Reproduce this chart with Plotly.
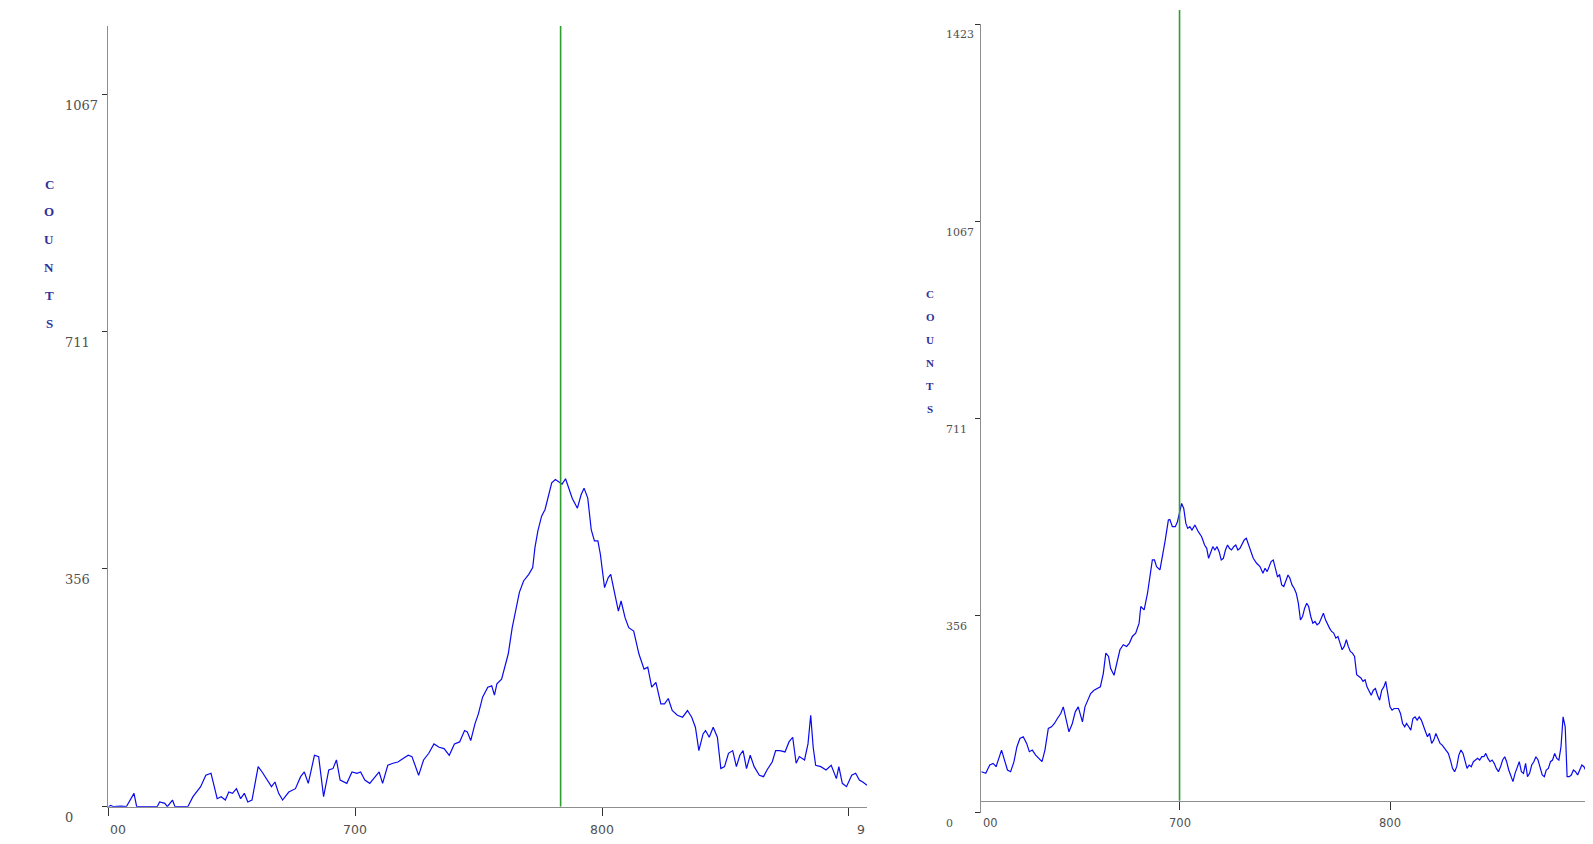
import plotly.graph_objects as go

# ---------------- data ----------------
left_wavelength = [600.0, 601.0, 602.1, 605.2, 607.3, 610.4, 611.5, 619.8, 620.8, 622.9, 623.9, 626.0, 627.0,
    632.2, 634.3, 637.4, 639.5, 641.6, 642.6, 644.1, 645.7, 647.4, 648.8, 650.3, 651.9, 653.6, 655.1,
    656.5, 658.2, 660.7, 662.3, 664.4, 666.1, 667.5, 669.0, 670.6, 673.1, 675.8, 677.9, 679.4, 681.0,
    683.5, 685.2, 687.2, 689.3, 691.0, 692.4, 693.9, 696.6, 698.7, 700.7, 702.2, 703.9, 705.9, 708.0,
    709.7, 711.1, 713.2, 715.3, 717.3, 719.4, 721.5, 723.0, 725.7, 727.7, 729.8, 731.9, 734.0, 736.0,
    738.1, 740.2, 742.3, 744.3, 745.4, 746.8, 748.5, 749.9, 751.6, 753.7, 755.3, 756.4, 757.4, 759.3,
    760.9, 762.0, 763.6, 765.1, 766.5, 768.2, 770.3, 771.9, 772.8, 774.0, 775.5, 776.9, 778.2, 779.6,
    781.1, 782.3, 783.8, 785.2, 786.5, 787.9, 790.0, 791.5, 792.7, 794.2, 795.6, 796.9, 798.3, 799.3,
    801.0, 802.5, 803.5, 805.2, 806.6, 807.7, 809.3, 810.8, 812.8, 814.9, 817.0, 818.5, 820.1, 821.8,
    823.8, 825.3, 826.8, 828.4, 830.5, 832.6, 834.6, 836.3, 837.8, 839.2, 840.9, 841.9, 843.4, 845.0,
    846.7, 848.1, 849.6, 851.2, 852.9, 854.4, 855.8, 857.1, 858.5, 860.0, 861.6, 863.7, 865.4, 866.8,
    868.9, 870.3, 872.0, 874.1, 875.7, 877.2, 878.6, 879.9, 882.0, 883.4, 884.5, 885.5, 886.5, 888.6,
    890.7, 892.8, 894.9, 895.9, 897.3, 899.0, 901.1, 902.7, 904.2, 905.6, 907.3]
left_counts = [0, 2, 0, 1, 0, 20, 0, 0, 7, 5, 0, 10, 0,
    0, 15, 30, 47, 50, 35, 12, 15, 10, 22, 20, 27, 12, 20,
    7, 10, 60, 52, 40, 30, 37, 20, 10, 22, 27, 45, 52, 35,
    77, 75, 15, 55, 57, 70, 40, 35, 52, 50, 52, 40, 35, 45,
    52, 35, 62, 65, 67, 72, 77, 75, 47, 70, 80, 94, 89, 87,
    77, 94, 97, 114, 112, 99, 124, 139, 164, 179, 181, 167, 184, 191,
    216, 229, 268, 298, 321, 338, 348, 358, 388, 413, 435, 445, 465, 485,
    490, 487, 483, 491, 477, 462, 447, 467, 477, 462, 415, 398, 398, 378,
    328, 343, 348, 318, 293, 308, 283, 268, 263, 229, 206, 209, 179, 186,
    154, 154, 162, 144, 137, 134, 144, 134, 119, 84, 109, 114, 104, 119,
    104, 57, 60, 80, 84, 60, 77, 84, 57, 77, 60, 47, 45, 55,
    67, 84, 84, 82, 97, 104, 65, 75, 70, 94, 137, 89, 62, 60,
    55, 62, 42, 60, 35, 30, 47, 50, 40, 37, 32]

right_wavelength = [606.0, 608.0, 609.9, 611.5, 612.9, 614.3, 615.5, 616.9, 618.3, 619.8, 621.4, 622.8, 624.2,
    625.8, 627.4, 628.7, 630.1, 631.7, 633.3, 634.7, 636.1, 637.7, 639.2, 640.6, 642.0, 643.6, 644.8,
    646.0, 647.5, 649.1, 650.5, 651.9, 653.1, 653.9, 655.1, 656.5, 657.8, 659.4, 661.0, 662.4, 663.8,
    665.0, 666.3, 667.3, 668.9, 670.3, 671.7, 673.3, 674.9, 676.2, 677.6, 679.2, 680.8, 681.6, 683.2,
    684.8, 686.1, 687.1, 688.1, 689.1, 690.7, 692.1, 693.1, 694.7, 695.4, 696.6, 698.0, 699.0, 700.0,
    701.0, 702.0, 703.0, 703.9, 704.9, 705.9, 707.3, 708.9, 710.5, 711.9, 712.9, 713.8, 714.8, 715.8,
    716.8, 717.8, 718.8, 719.8, 720.8, 721.8, 722.8, 723.7, 724.7, 725.7, 726.7, 727.7, 728.7, 729.7,
    730.7, 731.7, 732.7, 733.6, 735.0, 736.6, 738.2, 739.6, 740.6, 741.6, 742.5, 743.5, 744.5, 745.5,
    746.5, 747.5, 748.5, 749.5, 750.5, 751.5, 752.4, 753.4, 754.4, 755.4, 756.4, 757.4, 758.4, 759.4,
    760.4, 761.3, 762.3, 763.3, 764.3, 765.3, 766.3, 767.3, 768.3, 769.3, 770.3, 771.2, 772.2, 773.2,
    774.2, 775.2, 776.2, 777.2, 778.2, 779.2, 780.1, 781.1, 782.1, 783.1, 784.1, 785.1, 786.1, 787.1,
    788.1, 789.0, 790.0, 791.0, 792.0, 793.0, 794.0, 795.0, 796.0, 797.0, 797.9, 798.9, 799.9, 800.9,
    801.9, 802.9, 803.9, 804.9, 805.9, 806.9, 807.8, 808.8, 809.8, 810.8, 811.8, 812.8, 813.8, 814.8,
    815.8, 816.8, 817.7, 818.7, 819.7, 820.7, 821.7, 822.7, 823.7, 824.7, 825.7, 826.6, 827.6, 828.6,
    829.6, 830.6, 831.6, 832.6, 833.6, 834.6, 835.6, 836.5, 837.5, 838.5, 839.5, 840.5, 841.5, 842.5,
    843.5, 844.5, 845.4, 846.4, 847.4, 848.4, 849.4, 850.4, 851.4, 852.4, 853.4, 854.4, 855.3, 856.3,
    857.3, 858.3, 859.3, 860.3, 861.3, 862.3, 863.3, 864.3, 865.2, 866.2, 867.2, 868.2, 869.2, 870.2,
    871.2, 872.2, 873.2, 874.1, 875.1, 876.1, 877.1, 878.1, 879.1, 880.1, 881.1, 882.1, 883.1, 884.0,
    885.0, 886.0, 887.0, 888.0, 889.0, 890.0, 891.0, 892.0, 893.0, 893.9, 894.9, 895.9]
right_counts = [74, 71, 86, 89, 83, 101, 113, 95, 77, 74, 92, 119, 134,
    137, 125, 110, 113, 104, 98, 92, 113, 152, 155, 161, 170, 179, 191,
    173, 146, 161, 182, 191, 173, 164, 191, 203, 215, 221, 224, 227, 251,
    288, 282, 260, 248, 270, 294, 303, 300, 306, 318, 324, 342, 372, 366,
    396, 429, 456, 456, 444, 438, 465, 489, 528, 529, 516, 516, 525, 540,
    558, 549, 522, 513, 516, 510, 519, 507, 498, 483, 477, 459, 468, 480,
    474, 480, 471, 456, 459, 474, 483, 477, 474, 480, 483, 474, 477, 486,
    492, 495, 483, 474, 459, 450, 444, 432, 441, 435, 444, 453, 456, 438,
    426, 429, 411, 408, 417, 429, 423, 411, 405, 396, 378, 348, 354, 369,
    378, 372, 354, 342, 345, 339, 342, 351, 360, 348, 339, 333, 327, 324,
    315, 318, 306, 294, 300, 312, 300, 291, 288, 282, 249, 246, 243, 237,
    240, 227, 218, 212, 221, 224, 212, 203, 221, 227, 237, 215, 191, 185,
    188, 188, 188, 179, 161, 155, 161, 155, 149, 170, 173, 167, 173, 167,
    155, 146, 137, 143, 125, 131, 143, 134, 125, 122, 116, 113, 107, 95,
    80, 74, 83, 104, 113, 107, 92, 80, 86, 83, 92, 95, 98, 95,
    101, 101, 107, 98, 92, 95, 89, 80, 74, 83, 95, 101, 92, 77,
    68, 56, 71, 83, 92, 74, 71, 89, 65, 71, 86, 92, 101, 95,
    80, 68, 65, 77, 80, 92, 95, 107, 98, 95, 119, 173, 155, 65,
    65, 68, 77, 74, 68, 77, 86, 83, 74, 68, 62, 62]

left_marker_wavelength = 783.2
right_marker_wavelength = 700

left_ytick_vals = [0, 356, 711, 1067]
right_ytick_vals = [0, 356, 711, 1067, 1423]
left_xtick_vals = [600, 700, 800, 900]
left_xtick_text = ["00", "700", "800", "9"]
right_xtick_vals = [605.6, 700, 800]
right_xtick_text = ["00", "700", "800"]
axis_title_letters = ["C", "O", "U", "N", "T", "S"]

# ---------------- geometry ----------------
# the page body keeps its default 8px margin, so the figure is placed at (8, 8)
PAGE_W, PAGE_H, BODY = 1593, 844, 8
W, H = PAGE_W - 2 * BODY, PAGE_H - 2 * BODY
def px_x(p):
    return (p - BODY) / W
def px_y(p):
    return 1 - (p - BODY) / H

LEFT_X_RANGE = [600, 907.3]
LEFT_Y_RANGE = [0, 1169]
RIGHT_X_RANGE = [605.6, 892.5]
RIGHT_Y_RANGE = [0, 1423]

AXIS_GRAY = "#8e8e8e"
TICK_DARK = "#333333"
LABEL_GRAY = "#505050"
CURVE_BLUE = "#0a0aee"
MARK_GREEN = "#2f9e2f"
TITLE_BLUE = "#30309a"

fig = go.Figure()
fig.add_trace(go.Scatter(x=left_wavelength, y=left_counts, mode="lines",
                         line=dict(color=CURVE_BLUE, width=1.2), xaxis="x", yaxis="y",
                         showlegend=False, hoverinfo="skip"))
fig.add_trace(go.Scatter(x=right_wavelength, y=right_counts, mode="lines",
                         line=dict(color=CURVE_BLUE, width=1.2), xaxis="x2", yaxis="y2",
                         showlegend=False, hoverinfo="skip"))

common_axis = dict(showgrid=False, zeroline=False, showline=True, linecolor=AXIS_GRAY,
                   linewidth=1.3, ticks="outside", tickcolor=TICK_DARK, tickwidth=1.3,
                   showticklabels=False, fixedrange=True)

fig.update_layout(
    width=W, height=H, margin=dict(l=0, r=0, t=0, b=0),
    paper_bgcolor="white", plot_bgcolor="white", showlegend=False,
    xaxis=dict(domain=[px_x(108.3), px_x(867)], range=LEFT_X_RANGE, anchor="y",
               tickmode="array", tickvals=left_xtick_vals, ticklen=8, **common_axis),
    yaxis=dict(domain=[px_y(806.7), px_y(26)], range=LEFT_Y_RANGE, anchor="x",
               tickmode="array", tickvals=left_ytick_vals, ticklen=5, **common_axis),
    xaxis2=dict(domain=[px_x(980.7), 1.0], range=RIGHT_X_RANGE, anchor="free",
                position=px_y(800.7), tickmode="array", tickvals=right_xtick_vals[1:],
                ticklen=8, **common_axis),
    yaxis2=dict(domain=[px_y(812.7), px_y(24)], range=RIGHT_Y_RANGE, anchor="x2",
                tickmode="array", tickvals=right_ytick_vals, ticklen=5, **common_axis),
)

# green marker lines
fig.add_shape(type="line", xref="x", yref="y", x0=left_marker_wavelength, x1=left_marker_wavelength,
              y0=LEFT_Y_RANGE[0], y1=LEFT_Y_RANGE[1], line=dict(color=MARK_GREEN, width=1.6))
fig.add_shape(type="line", xref="x2", yref="paper", x0=right_marker_wavelength, x1=right_marker_wavelength,
              y0=px_y(800.7), y1=px_y(10), line=dict(color=MARK_GREEN, width=1.6))

ann = []
# y tick labels (left-aligned, slightly below the tick)
for v in left_ytick_vals:
    ann.append(dict(x=px_x(63), xref="paper", xanchor="left", y=v, yref="y", yanchor="middle",
                    yshift=-11, text=str(v), showarrow=False,
                    font=dict(family="DejaVu Serif", size=13, color=LABEL_GRAY)))
for v in right_ytick_vals:
    ann.append(dict(x=px_x(944), xref="paper", xanchor="left", y=v, yref="y2", yanchor="middle",
                    yshift=-11, text=str(v), showarrow=False,
                    font=dict(family="DejaVu Serif", size=11, color=LABEL_GRAY)))
# x tick labels
for i, (v, t) in enumerate(zip(left_xtick_vals, left_xtick_text)):
    if i == 0:
        xa, xv = "left", v
    elif i == len(left_xtick_vals) - 1:
        xa, xv = "right", LEFT_X_RANGE[1]
    else:
        xa, xv = "center", v
    ann.append(dict(x=xv, xref="x", xanchor=xa, y=px_y(829), yref="paper", yanchor="middle",
                    text=t, showarrow=False,
                    font=dict(family="DejaVu Sans", size=12.5, color=LABEL_GRAY)))
for i, (v, t) in enumerate(zip(right_xtick_vals, right_xtick_text)):
    xa = "left" if i == 0 else "center"
    ann.append(dict(x=v, xref="x2", xanchor=xa, y=px_y(823), yref="paper", yanchor="middle",
                    text=t, showarrow=False,
                    font=dict(family="DejaVu Sans", size=11.5, color=LABEL_GRAY)))
# vertical "COUNTS" titles
for i, ch in enumerate(axis_title_letters):
    ann.append(dict(x=px_x(49), xref="paper", xanchor="center", y=px_y(184 + i * 27.8), yref="paper",
                    yanchor="middle", text="<b>" + ch + "</b>", showarrow=False,
                    font=dict(family="Liberation Serif", size=13, color=TITLE_BLUE)))
    ann.append(dict(x=px_x(930), xref="paper", xanchor="center", y=px_y(294 + i * 23), yref="paper",
                    yanchor="middle", text="<b>" + ch + "</b>", showarrow=False,
                    font=dict(family="Liberation Serif", size=11, color=TITLE_BLUE)))
fig.update_layout(annotations=ann)

fig.write_html("out.html", config={"displayModeBar": False})
